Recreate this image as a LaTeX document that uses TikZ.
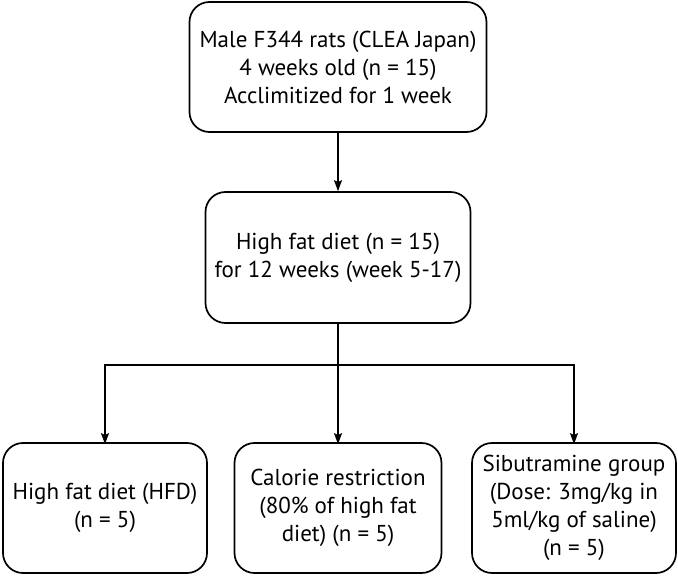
\documentclass[tikz,border=0pt]{standalone}
\usepackage{fontspec}
\setmainfont{PT Sans}
\usetikzlibrary{arrows.meta}
\begin{document}
\begin{tikzpicture}[x=1pt,y=-1pt,
  box/.style={draw, line width=1.7pt, rounded corners=20pt, align=center, inner sep=0pt,
    font=\fontsize{23}{28}\selectfont},
  arr/.style={line width=1.5pt, -{Stealth[length=11pt,width=8pt,inset=2pt]}},
  ln/.style={line width=1.5pt}]
\useasboundingbox (0,0) rectangle (678,577);
\node[box, minimum width=297pt, minimum height=130pt] (top) at (338,67) {Male F344 rats (CLEA Japan)\\4 weeks old (n = 15)\\Acclimitized for 1 week};
\node[box, minimum width=265pt, minimum height=131pt] (hfd) at (338,257.5) {High fat diet (n = 15)\\for 12 weeks (week 5-17)};
\node[box, minimum width=204pt, minimum height=130pt] (b1) at (105,508) {High fat diet (HFD)\\(n = 5)};
\node[box, minimum width=207pt, minimum height=130pt] (b2) at (338,508) {Calorie restriction\\(80\% of high fat\\diet) (n = 5)};
\node[box, minimum width=204pt, minimum height=130pt] (b3) at (574,508) {Sibutramine group\\(Dose: 3mg/kg in\\5ml/kg of saline)\\(n = 5)};
\coordinate (j) at (hfd.south |- 0,365);
\draw[arr] (top.south) -- (top.south |- hfd.north);
\draw[ln] (hfd.south) -- (j);
\draw[arr] (j) -- ([yshift=-2pt]b2.north);
\draw[arr] (j) -- (b1.north |- j) -- ([yshift=-2pt]b1.north);
\draw[arr] (j) -- (b3.north |- j) -- ([yshift=-2pt]b3.north);
\end{tikzpicture}
\end{document}
